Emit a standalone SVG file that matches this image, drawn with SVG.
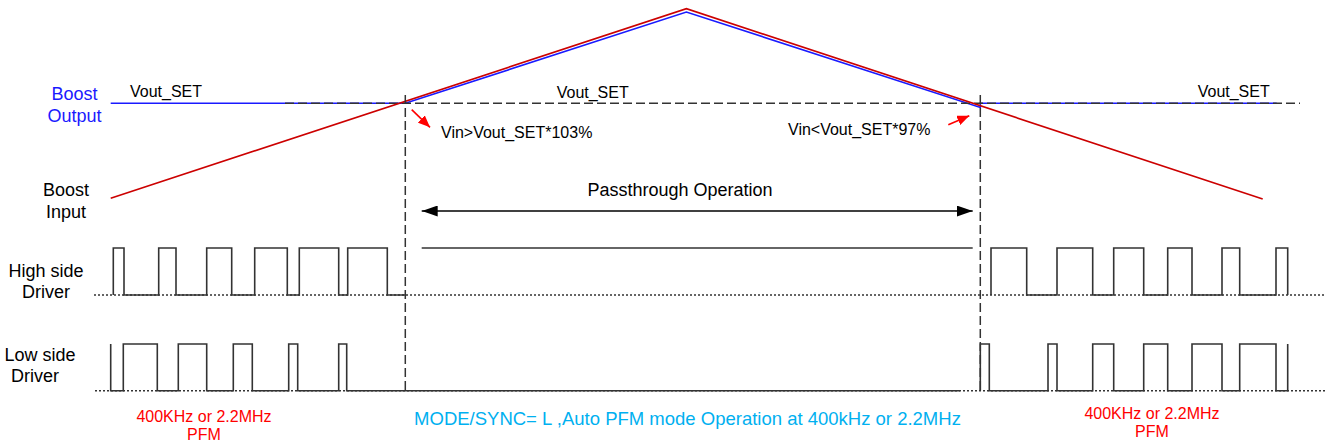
<svg xmlns="http://www.w3.org/2000/svg" width="1326" height="444" viewBox="0 0 1326 444">
<style>
text{font-family:"Liberation Sans",Arial,sans-serif;}
.lbl{font-size:18px;fill:#000;text-anchor:middle;}
.blu{fill:#1a1aff;}
.sm{font-size:16px;fill:#000;}
.red{font-size:16px;fill:#ff0000;text-anchor:middle;}
.mode{font-size:18.5px;fill:#00b0f0;text-anchor:middle;}
.wave{fill:none;stroke:#333;stroke-width:1.6;}
.dot{fill:none;stroke:#333;stroke-width:1.4;stroke-dasharray:2 2;}
.dash{fill:none;stroke:#333;stroke-width:1.5;stroke-dasharray:9 4;}
</style>
<defs>
<marker id="ah" viewBox="0 0 16 11" refX="16" refY="5.5" markerWidth="16" markerHeight="11" markerUnits="userSpaceOnUse" orient="auto-start-reverse">
<path d="M0,0 L16,5.5 L0,11 z" fill="#000"/>
</marker>
<marker id="rah" viewBox="0 0 12 10" refX="12" refY="5" markerWidth="12" markerHeight="10" markerUnits="userSpaceOnUse" orient="auto">
<path d="M0,0 L12,5 L0,10 z" fill="#ff0000"/>
</marker>
</defs>

<g id="labels">
<text class="lbl blu" x="74.5" y="100">Boost</text>
<text class="lbl blu" x="74.5" y="121.5">Output</text>
<text class="lbl" x="66" y="196">Boost</text>
<text class="lbl" x="66" y="217.5">Input</text>
<text class="lbl" x="46" y="277">High side</text>
<text class="lbl" x="46" y="297.5">Driver</text>
<text class="lbl" x="40" y="361">Low side</text>
<text class="lbl" x="35" y="381.5">Driver</text>
</g>

<g id="baselines">
<path class="dot" d="M94,295 H1326"/>
<path class="dot" d="M95,390.7 H1326"/>
</g>

<g id="vout-set-line">
<path d="M110.7,103.3 H405.3 L686.4,12 L980.3,107.5 V103.3 H1276.7" fill="none" stroke="#1a1aff" stroke-width="1.6"/>
<path class="dash" d="M285,103.3 H1300"/>
</g>

<g id="boost-input">
<path d="M110.7,198.3 L686.4,8.7 L1262.7,199" fill="none" stroke="#cc0000" stroke-width="1.6"/>
</g>

<g id="markers-vertical">
<path class="dash" d="M405.3,95 V390"/>
<path class="dash" d="M980.3,95 V390"/>
</g>

<g id="high-side">
<path class="wave" d="M113.3,295 V248 H124 V295 H158.7 V248 H176 V295 H206.7 V248 H231.7 V295 H254.7 V248 H287.3 V295 H299.3 V248 H338.7 V295 H347.7 V248 H387.3 V295 H405"/>
<path class="wave" d="M421.7,248 H972.7"/>
<path class="wave" d="M991,295 V248 H1026.7 V295 H1057 V248 H1092.7 V295 H1113.7 V248 H1143.7 V295 H1167.7 V248 H1192 V295 H1222 V248 H1239.7 V295 H1276 V248 H1287.7 V295"/>
</g>

<g id="low-side">
<path class="wave" d="M110.7,344 V390.7 H123.3 V344 H157.3 V390.7 H178.3 V344 H206.7 V390.7 H233.3 V344 H252.3 V390.7 H288.7 V344 H297.7 V390.7 H338.7 V344 H346.7 V390.7 H960"/>
<path class="wave" d="M980.3,390.7 V344 H989.3 V390.7 H1048 V344 H1057 V390.7 H1092.7 V344 H1113.7 V390.7 H1143.7 V344 H1167.7 V390.7 H1192 V344 H1222 V390.7 H1239.7 V344 H1276 V390.7 H1287.7 V344"/>
</g>

<g id="connectors">
<path d="M421.7,211 H972.7" fill="none" stroke="#000" stroke-width="1.6" marker-start="url(#ah)" marker-end="url(#ah)"/>
<path d="M411.7,109.7 L430,127.3" fill="none" stroke="#ff0000" stroke-width="1.6" marker-end="url(#rah)"/>
<path d="M948.3,124.7 L969.3,115.7" fill="none" stroke="#ff0000" stroke-width="1.6" marker-end="url(#rah)"/>
</g>

<g id="annotations">
<text class="sm" x="130" y="97.3">Vout_SET</text>
<text class="sm" x="556.7" y="98">Vout_SET</text>
<text class="sm" x="1197.7" y="97.3">Vout_SET</text>
<text class="sm" x="441" y="137.5">Vin&gt;Vout_SET*103%</text>
<text class="sm" x="788" y="134.5">Vin&lt;Vout_SET*97%</text>
<text class="lbl" x="680" y="196">Passthrough Operation</text>
<text class="red" x="204" y="421.7">400KHz or 2.2MHz</text>
<text class="red" x="204" y="440">PFM</text>
<text class="red" x="1152" y="418.5">400KHz or 2.2MHz</text>
<text class="red" x="1152" y="437">PFM</text>
<text class="mode" x="687.5" y="425">MODE/SYNC= L ,Auto PFM mode Operation at 400kHz or 2.2MHz</text>
</g>
</svg>
